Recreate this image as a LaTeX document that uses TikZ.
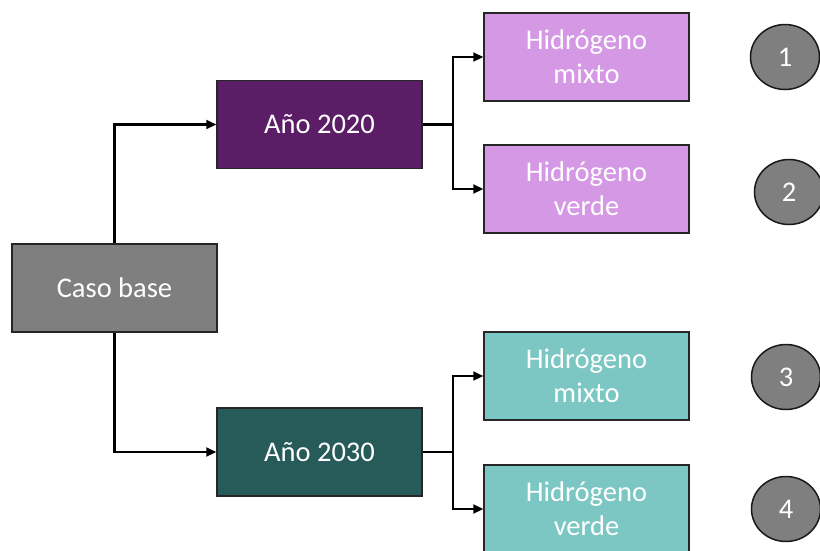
\documentclass[tikz,border=0pt]{standalone}
\usepackage{fontspec}
\setmainfont{Carlito}
\usetikzlibrary{arrows.meta,shapes.geometric}
\definecolor{gbox}{HTML}{7F7F7F}
\definecolor{purp}{HTML}{5A1D66}
\definecolor{dteal}{HTML}{275B5A}
\definecolor{pink}{HTML}{D598E4}
\definecolor{lteal}{HTML}{7CC7C3}
\begin{document}
\begin{tikzpicture}[x=1pt,y=-1pt,
  bx/.style={draw=black!85,line width=1.5pt,minimum width=205pt,minimum height=88pt,inner sep=0pt,text=white,align=center,font=\fontsize{28.5}{34}\selectfont},
  num/.style={draw=black!90,line width=1.5pt,ellipse,fill=gbox,minimum width=69pt,minimum height=65pt,inner sep=0pt,text=white,font=\fontsize{28.5}{34}\selectfont},
  ln/.style={draw=black,line width=2.2pt},
  conn/.style={ln,-{Triangle[length=10pt,width=9pt]}}]
\useasboundingbox (0,0) rectangle (820,550);
\node[bx,fill=gbox] (base) at (114.5,288) {Caso base};
\node[bx,fill=purp] (y20) at (319.5,124.5) {Año 2020};
\node[bx,fill=dteal] (y30) at (319.5,452) {Año 2030};
\node[bx,fill=pink] (h1) at (586.5,57) {Hidrógeno\\mixto};
\node[bx,fill=pink] (h2) at (586.5,189) {Hidrógeno\\verde};
\node[bx,fill=lteal] (h3) at (586.5,376) {Hidrógeno\\mixto};
\node[bx,fill=lteal] (h4) at (586.5,509) {Hidrógeno\\verde};
\node[num] (c1) at (785,57) {1};
\node[num] (c2) at (789,192) {2};
\node[num] (c3) at (786,377) {3};
\node[num] (c4) at (786,509) {4};
\coordinate (s20) at (453,124.5);
\coordinate (s30) at (453,452);
\draw[conn] (base.north) |- (y20.west);
\draw[conn] (base.south) |- (y30.west);
\draw[ln] (y20.east) -- (s20);
\draw[ln] (y30.east) -- (s30);
\draw[conn] (s20) |- (h1.west);
\draw[conn] (s20) |- (h2.west);
\draw[conn] (s30) |- (h3.west);
\draw[conn] (s30) |- (h4.west);
\end{tikzpicture}
\end{document}
